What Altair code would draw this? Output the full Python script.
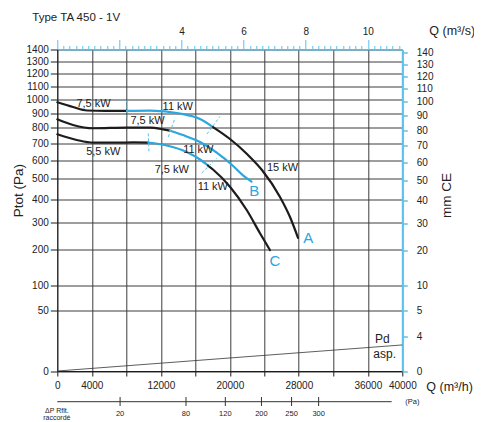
import json
import altair as alt
import pandas as pd

FONT = "Liberation Sans"
BLUE = "#2ba6de"
AXBLUE = "#5cc1ec"
BLACK = "#1c1c1c"
GRID = "#3c3c3c"
TXT = "#222222"

# ---- fan curves (Q in m3/h, Ptot in Pa) ----
a1_q = [0, 1820, 3444, 5530, 8080]
a1_p = [978, 944, 919, 916, 916]
a2_q = [8080, 10750, 14230, 16545, 18050]
a2_p = [916, 918, 898, 860, 806]
a3_q = [18050, 20020, 21990, 23730, 25820, 26980, 27910]
a3_p = [806, 729, 638, 547, 410, 321, 240]
b1_q = [0, 1820, 4140, 8080, 10750, 12260, 13070]
b1_p = [858, 820, 798, 802, 802, 791, 782]
b2_q = [13070, 14570, 16545, 18520, 20260, 21760, 22515]
b2_p = [782, 754, 710, 644, 575, 510, 486]
c1_q = [0, 2250, 4170, 6890, 8810, 10550]
c1_p = [759, 723, 706, 706, 708, 707]
c2_q = [10550, 12680, 15000, 16545, 17470]
c2_p = [707, 689, 650, 606, 572]
c3_q = [17470, 18050, 20020, 21960, 23500, 24660]
c3_p = [572, 550, 460, 351, 257, 198]

# power labels
kw_text = ["7,5 kW", "11 kW", "7,5 kW", "5,5 kW", "11 kW", "7,5 kW", "11 kW", "15 kW"]
kw_q = [4197, 13970, 10458, 5333, 16348, 13275, 18029, 26110]
kw_p = [962, 943, 845, 647, 660, 549, 458, 556]

# curve letters
letter_text = ["A", "B", "C"]
letter_q = [29100, 22840, 25240]
letter_p = [241, 437, 165]

# transition dashes
dash_q1 = [8080, 17360, 12870, 10550, 16740]
dash_p1 = [995, 761, 742, 765, 531]
dash_q2 = [8080, 18860, 13650, 10630, 18480]
dash_p2 = [860, 877, 867, 642, 613]

# dynamic pressure line
pd_q = [0, 40000]
pd_p = [0, 9.2]
pd_text = ["Pd", "asp."]
pd_tq = [37700, 37960]
pd_tp = [13.9, 3.8]

# axes
left_ticks = [0, 50, 100, 200, 300, 400, 500, 600, 700, 800, 900, 1000, 1100, 1200, 1300, 1400]
bottom_ticks = list(range(0, 40001, 4000))
bottom_label_values = [0, 4000, 12000, 20000, 28000, 36000, 40000]
top_ticks = [round(i * 0.2, 1) for i in range(56)]
top_label_values = [4, 6, 8, 10]
right_tick_pos = [0, 1.6, 5, 10, 20, 30, 40, 50, 60, 70, 80, 90, 100, 110, 120, 130, 140]
right_tick_labels = ["0", "4", "5", "10", "20", "30", "40", "50", "60", "70", "80",
                     "90", "100", "110", "120", "130", "140"]

# delta-P scale below
dp_labels = ["20", "80", "120", "200", "250", "300"]
dp_q = [7280, 14920, 19480, 23670, 27160, 30300]
dp_line_end = 38770

segments = [
    ("A1", a1_q, a1_p, BLACK), ("A2", a2_q, a2_p, BLUE), ("A3", a3_q, a3_p, BLACK),
    ("B1", b1_q, b1_p, BLACK), ("B2", b2_q, b2_p, BLUE),
    ("C1", c1_q, c1_p, BLACK), ("C2", c2_q, c2_p, BLUE), ("C3", c3_q, c3_p, BLACK),
]
rows = []
for name, qs, ps, col in segments:
    for i, (q, p) in enumerate(zip(qs, ps)):
        rows.append({"seg": name, "q": q, "p": p, "col": col, "i": i})
curves_df = pd.DataFrame(rows)

xs = alt.Scale(domain=[0, 40000], nice=False, zero=False)
ys = alt.Scale(type="sqrt", domain=[0, 1400], nice=False, zero=True)

x_axis = alt.Axis(
    orient="bottom", values=bottom_ticks,
    labelExpr=f"indexof({bottom_label_values}, datum.value) >= 0 ? '' + datum.value : ''",
    grid=True, gridColor=GRID, gridWidth=1, domainColor=BLACK, tickColor=BLACK,
    tickSize=5, labelFontSize=10, labelPadding=4, labelFont=FONT, labelColor=TXT,
    labelOverlap=False, labelFlush=False,
    title="Q (m³/h)", titleX=368.5, titleY=15.7, titleAlign="left", titleBaseline="middle",
    titleFontSize=12.5, titleFontWeight="normal", titleFont=FONT, titleColor=TXT,
)
y_axis = alt.Axis(
    orient="left", values=left_ticks, format="d",
    grid=True, gridColor=GRID, gridWidth=1, domainColor=BLACK, tickColor=BLACK,
    tickSize=7, labelPadding=2, labelFontSize=10, labelFont=FONT, labelColor=TXT,
    labelOverlap=False, labelFlush=False,
    title="Ptot  (Pa)", titleX=-39.3, titleY=140.7, titleAngle=270, titleAlign="center",
    titleBaseline="middle", titleFontSize=13.5, titleFontWeight="normal", titleFont=FONT,
    titleColor=TXT,
)


def X(field):
    return alt.X(field, scale=xs, axis=x_axis)


def Y(field):
    return alt.Y(field, scale=ys, axis=y_axis)


curves = alt.Chart(curves_df).mark_line(strokeWidth=2.2, interpolate="monotone", strokeCap="round").encode(
    x=X("q:Q"), y=Y("p:Q"),
    detail="seg:N",
    color=alt.Color("col:N", scale=None),
    order="i:Q",
)

pd_line = alt.Chart(pd.DataFrame({"q": pd_q, "p": pd_p})).mark_line(color="#333", strokeWidth=0.8).encode(
    x=X("q:Q"), y=Y("p:Q"))

dashes = alt.Chart(pd.DataFrame({"q1": dash_q1, "p1": dash_p1, "q2": dash_q2, "p2": dash_p2})).mark_rule(
    color=AXBLUE, strokeWidth=1, strokeDash=[3, 2]).encode(x=X("q1:Q"), y=Y("p1:Q"), x2="q2", y2="p2")

kw_labels = alt.Chart(pd.DataFrame({"q": kw_q, "p": kw_p, "t": kw_text})).mark_text(
    font=FONT, fontSize=11, color=TXT, baseline="middle").encode(x=X("q:Q"), y=Y("p:Q"), text="t:N")

letters = alt.Chart(pd.DataFrame({"q": letter_q, "p": letter_p, "t": letter_text})).mark_text(
    font=FONT, fontSize=15, color=BLUE, baseline="middle").encode(x=X("q:Q"), y=Y("p:Q"), text="t:N")

pd_labels = alt.Chart(pd.DataFrame({"q": pd_tq, "p": pd_tp, "t": pd_text})).mark_text(
    font=FONT, fontSize=12, color=TXT, baseline="middle").encode(x=X("q:Q"), y=Y("p:Q"), text="t:N")

one = pd.DataFrame({"a": [0]})
dp_line = alt.Chart(pd.DataFrame({"q0": [0], "q1": [dp_line_end]})).mark_rule(color="#333", strokeWidth=1).encode(
    x=X("q0:Q"), x2="q1", y=alt.value(352.2))
dp_df = pd.DataFrame({"q": dp_q, "lab": dp_labels})
dp_ticks = alt.Chart(dp_df).mark_rule(color="#333", strokeWidth=1).encode(
    x=X("q:Q"), y=alt.value(347.5), y2=alt.value(356.5))
dp_text = alt.Chart(dp_df).mark_text(font=FONT, fontSize=7.5, color=TXT, baseline="middle").encode(
    x=X("q:Q"), y=alt.value(364.5), text="lab:N")
dp_unit = alt.Chart(one).mark_text(font=FONT, fontSize=7.5, color=TXT, align="left", baseline="middle",
                                   text="(Pa)").encode(x=alt.value(348), y=alt.value(352.8))
dp_title = alt.Chart(one).mark_text(font=FONT, fontSize=7, color=TXT, align="center", baseline="top",
                                    lineHeight=7.5, text=["ΔP Rflt.", "raccordé"]).encode(
    x=alt.value(-0.5), y=alt.value(357))

main = alt.layer(curves, pd_line, dashes, kw_labels, letters, pd_labels,
                 dp_line, dp_ticks, dp_text, dp_unit, dp_title)

top_axis = alt.Axis(
    orient="top", values=top_ticks,
    labelExpr=f"indexof({top_label_values}, datum.value) >= 0 ? '' + datum.value : ''",
    grid=False, domainColor=AXBLUE, tickColor=AXBLUE, tickWidth=1,
    tickSize={"condition": {"test": "abs(datum.value/2 - round(datum.value/2)) < 0.01", "value": 10}, "value": 4},
    labelPadding=3, labelFontSize=10, labelFont=FONT, labelColor=TXT,
    labelOverlap=False, labelFlush=False,
    title="Q (m³/s)", titleX=371.5, titleY=-18.8, titleAlign="left", titleBaseline="middle",
    titleFontSize=12.5, titleFontWeight="normal", titleFont=FONT, titleColor=TXT,
)
right_axis = alt.Axis(
    orient="right", values=right_tick_pos,
    labelExpr=f"{json.dumps(right_tick_labels)}[indexof({right_tick_pos}, datum.value)]",
    grid=False, domainColor=AXBLUE, domainWidth=2, tickColor=AXBLUE, tickWidth=1.5, tickSize=5,
    labelPadding=9, labelFontSize=10, labelFont=FONT, labelColor=TXT,
    labelOverlap=False, labelFlush=False,
    title="mm CE", titleAngle=270, titleX=44.4, titleY=145.5, titleAlign="center",
    titleBaseline="middle", titleFontSize=13.5, titleFontWeight="normal", titleFont=FONT,
    titleColor=TXT,
)
dummy = alt.Chart(pd.DataFrame({"qs": [0, 40000 / 3600], "mm": [0, 1400 / 9.81]})).mark_point(opacity=0).encode(
    x=alt.X("qs:Q", scale=alt.Scale(domain=[0, 40000 / 3600], nice=False, zero=False), axis=top_axis),
    y=alt.Y("mm:Q", scale=alt.Scale(type="sqrt", domain=[0, 1400 / 9.81], nice=False, zero=True), axis=right_axis),
)

chart = alt.layer(main, dummy).resolve_scale(x="independent", y="independent").properties(
    width=345, height=321.5,
    title=alt.TitleParams(text="Type TA 450 - 1V", anchor="start", frame="group", dx=-25, offset=1,
                          fontSize=11.5, fontWeight="normal", font=FONT, color=TXT),
    autosize=alt.AutoSizeParams(type="none"),
    padding={"left": 49.3, "top": 41.5, "right": 71.7, "bottom": 51},
).configure_view(strokeWidth=0).configure_axis(labelOverlap=False)

chart.save("out.html", embed_options={"renderer": "svg", "actions": False})
